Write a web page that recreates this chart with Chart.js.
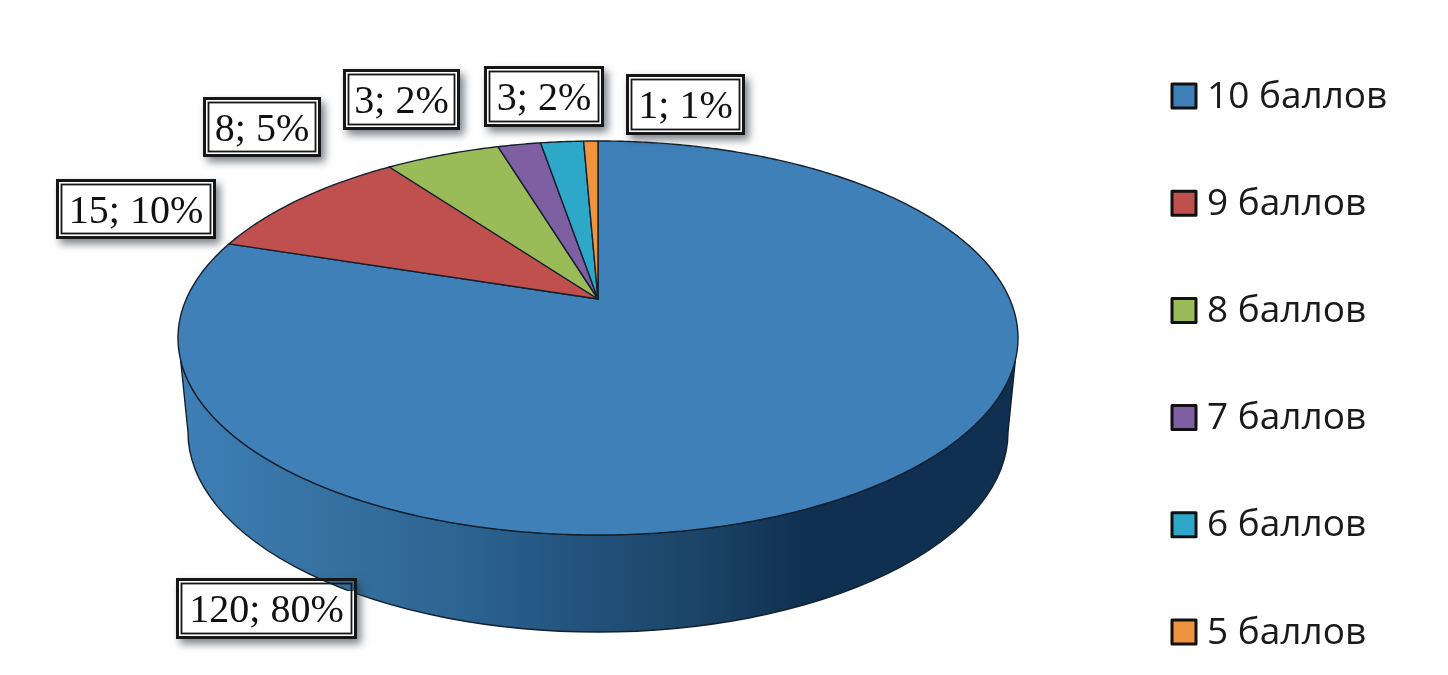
<!DOCTYPE html>
<html lang="ru">
<head>
    <meta charset="UTF-8">
    <title>Баллы</title>
    <script src="https://cdn.jsdelivr.net/npm/chart.js"></script>
    <style>
        html, body { margin: 0; padding: 0; background: #fff; overflow: hidden; }
        #wrap { width: 1448px; height: 675px; }
    </style>
</head>
<body>
    <div id="wrap"><canvas id="pie-chart"></canvas></div>
    <script>
        const categories = ['10 баллов', '9 баллов', '8 баллов', '7 баллов', '6 баллов', '5 баллов'];
        const counts = [120, 15, 8, 3, 3, 1];
        const colors = ['#3f80b9', '#c0504d', '#9bbb59', '#7d5fa2', '#2ea8c9', '#ef9540'];

        // label frames, left/top/width/height in pixels
        const labelFrames = [
            [176, 578, 181, 61],
            [56, 179, 160, 60],
            [203, 97, 118, 60],
            [343, 69, 117, 61],
            [484, 66, 120, 61],
            [626, 74, 119, 61]
        ];
        const legendX = 1172, legendTop = 84, legendStep = 107.2, legendBox = 24;

        // the disc is a tilted circle: scales on the element radius and perspective shift of the hub
        const SCALE_X = 420 / 337, SCALE_Y = 197 / 337, TILT = -0.198;
        const WALL_TOP = 22, WALL_DROP = 94, WALL_INSET = 10, WALL_RY = 200;

        function project(el, angle) {
            const u = Math.cos(angle), v = Math.sin(angle);
            const w = 1 + TILT * v;
            return {
                x: el.x + el.outerRadius * SCALE_X * u * Math.sqrt(1 - TILT * TILT) / w,
                y: el.y + el.outerRadius * SCALE_Y * (v + TILT) / w
            };
        }

        Chart.ArcElement.prototype.draw = function (ctx) {
            const start = this.startAngle, end = this.endAngle;
            const steps = Math.max(2, Math.ceil((end - start) / 0.01));
            ctx.save();
            ctx.beginPath();
            ctx.moveTo(this.x, this.y + this.outerRadius * SCALE_Y * TILT);
            for (let i = 0; i <= steps; i++) {
                const p = project(this, start + (end - start) * i / steps);
                ctx.lineTo(p.x, p.y);
            }
            ctx.closePath();
            ctx.fillStyle = this.options.backgroundColor;
            ctx.fill();
            ctx.strokeStyle = '#14202e';
            ctx.lineWidth = 1.4;
            ctx.lineJoin = 'round';
            ctx.stroke();
            ctx.restore();
        };

        const wallPlugin = {
            id: 'wall',
            beforeDatasetsDraw(chart) {
                const el = chart.getDatasetMeta(0).data[0];
                const ctx = chart.ctx;
                const rx = el.outerRadius * SCALE_X, ry = el.outerRadius * SCALE_Y;
                const t0 = Math.asin(WALL_TOP / ry);
                const grad = ctx.createLinearGradient(el.x - rx, 0, el.x + rx, 0);
                grad.addColorStop(0, '#3f7fb6');
                grad.addColorStop(0.2, '#34709f');
                grad.addColorStop(0.36, '#2b618f');
                grad.addColorStop(0.5, '#215079');
                grad.addColorStop(0.62, '#1c4466');
                grad.addColorStop(0.75, '#0f3050');
                grad.addColorStop(1, '#0f3050');
                ctx.save();
                ctx.beginPath();
                ctx.ellipse(el.x, el.y, rx, ry, 0, t0, Math.PI - t0);
                ctx.ellipse(el.x, el.y + WALL_DROP, rx - WALL_INSET, WALL_RY, 0, Math.PI, 0, true);
                ctx.closePath();
                ctx.fillStyle = grad;
                ctx.fill();
                ctx.strokeStyle = '#14202e';
                ctx.lineWidth = 1.4;
                ctx.stroke();
                ctx.restore();
            }
        };

        const labelPlugin = {
            id: 'frames',
            afterDatasetsDraw(chart) {
                const ctx = chart.ctx;
                const total = counts.reduce((a, b) => a + b, 0);
                counts.forEach((v, i) => {
                    const [x, y, w, h] = labelFrames[i];
                    // soft shadow only outside of the frame, inside stays see-through
                    ctx.save();
                    ctx.beginPath();
                    ctx.rect(0, 0, chart.width, chart.height);
                    ctx.rect(x, y, w, h);
                    ctx.clip('evenodd');
                    ctx.shadowColor = 'rgba(40,50,60,0.6)';
                    ctx.shadowBlur = 8;
                    ctx.shadowOffsetX = 4;
                    ctx.shadowOffsetY = 5;
                    ctx.fillStyle = '#fff';
                    ctx.fillRect(x, y, w, h);
                    ctx.restore();

                    ctx.save();
                    // white inside, except the first frame that lies over the pie edge
                    ctx.fillStyle = '#fff';
                    if (i > 0) {
                        ctx.fillRect(x, y, w, h);
                    } else {
                        ctx.fillRect(x + 3, y + 13, w - 6, h - 16);
                    }
                    ctx.strokeStyle = '#161616';
                    ctx.lineWidth = 3;
                    ctx.strokeRect(x + 1.5, y + 1.5, w - 3, h - 3);
                    ctx.lineWidth = 1.8;
                    ctx.strokeRect(x + 5.5, y + 5.5, w - 11, h - 11);
                    ctx.fillStyle = '#111';
                    ctx.font = '40px "Liberation Serif"';
                    ctx.textAlign = 'center';
                    ctx.textBaseline = 'middle';
                    ctx.fillText(v + '; ' + Math.round(v / total * 100) + '%', x + w / 2, y + h / 2 + 3);
                    ctx.restore();
                });
            }
        };

        // legend rows are too far apart for the built-in legend, it wraps them into two columns
        const legendPlugin = {
            id: 'sideLegend',
            afterDraw(chart) {
                const ctx = chart.ctx;
                ctx.save();
                categories.forEach((name, i) => {
                    const y = legendTop + legendStep * i;
                    ctx.fillStyle = colors[i];
                    ctx.fillRect(legendX, y, legendBox, legendBox);
                    ctx.strokeStyle = '#111';
                    ctx.lineWidth = 3;
                    ctx.lineJoin = 'round';
                    ctx.strokeRect(legendX, y, legendBox, legendBox);
                    ctx.fillStyle = '#1a1a1a';
                    ctx.font = '37px "Open Sans"';
                    ctx.textBaseline = 'middle';
                    ctx.fillText(name, legendX + 35, y + legendBox / 2 + 1);
                });
                ctx.restore();
            }
        };

        new Chart(document.getElementById('pie-chart'), {
            type: 'pie',
            data: {
                labels: categories,
                datasets: [{ data: counts, backgroundColor: colors, borderWidth: 0 }]
            },
            options: {
                responsive: true,
                maintainAspectRatio: false,
                animation: false,
                layout: { padding: { left: 0, right: 252, top: 1, bottom: 0 } },
                plugins: {
                    legend: { display: false },
                    tooltip: { enabled: false }
                }
            },
            plugins: [wallPlugin, labelPlugin, legendPlugin]
        });
    </script>
</body>
</html>
